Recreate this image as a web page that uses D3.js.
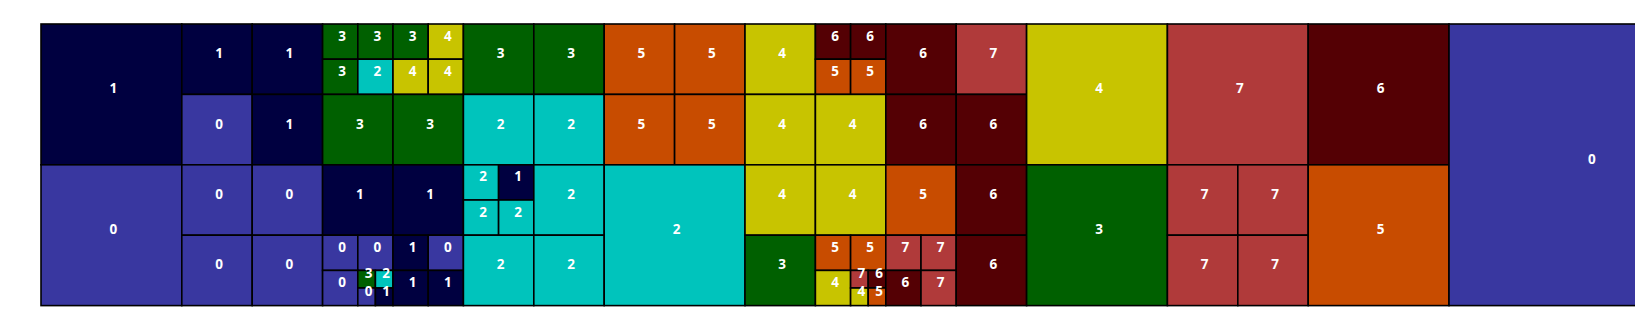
<!DOCTYPE html>
<html>
<head>
<meta charset="utf-8">
<script src="https://cdn.jsdelivr.net/npm/d3@7"></script>
<style>
  body { margin: 0; background: #fff; }
  svg { display: block; }
</style>
</head>
<body>
<svg id="chart" width="1635" height="334"></svg>
<script>
// Each cell: first char = top-level square index, next chars = quadrant (0 TL, 1 TR, 2 BL, 3 BR)
const cellPaths = [
  "00","010","011","012","013","02","030","031","032","033",
  "1000","1001","1002","1003","1010","1011","1012","1013","102","103",
  "110","111","112","113",
  "120","121","1220","1221","1222","12230","12231","12232","12233",
  "1230","1231","1232","1233",
  "1300","1301","1302","1303","131","132","133",
  "200","201","202","203",
  "210","2110","2111","2112","2113","212","213",
  "22",
  "230","231","232","2330","2331","2332","23330","23331","23332","23333",
  "300","301","302","303","31",
  "320","321","3220","3221","3222","3223","323","33",
  "40","41","420","421","422","423","43",
  "5"
];
const cellValues = [
  1,1,1,0,1,0,0,0,0,0,
  3,3,3,2,3,4,4,4,3,3,
  3,3,2,2,
  1,1,0,0,0,3,2,0,1,
  1,0,1,1,
  2,1,2,2,2,2,2,
  5,5,5,5,
  4,6,6,5,5,4,4,
  2,
  4,4,3,5,5,4,7,6,4,5,
  6,7,6,6,4,
  5,6,7,7,6,7,6,3,
  7,6,7,7,7,7,5,
  0
];
const classLabels = ["0","1","2","3","4","5","6","7"];
const classColors = ["#3937a0","#000040","#00c4bc","#006000","#c8c400","#c84c00","#540004","#b03a3a"];
const squareCount = 6;

const x = d3.scaleLinear().domain([0, squareCount]).range([41, 41 + squareCount * 281.6]);
const y = d3.scaleLinear().domain([0, 1]).range([24, 305.6]);
const color = d3.scaleOrdinal().domain(d3.range(classLabels.length)).range(classColors);

function cellGeom(path) {
  let cx = +path[0], cy = 0, s = 1;
  for (let i = 1; i < path.length; i++) {
    const q = +path[i];
    s /= 2;
    cx += (q % 2) * s;
    cy += Math.floor(q / 2) * s;
  }
  return { x0: cx, y0: cy, x1: cx + s, y1: cy + s };
}

const cells = cellPaths.map((p, i) => Object.assign({ value: cellValues[i] }, cellGeom(p)));

const svg = d3.select("#chart");
const g = svg.append("g");

g.selectAll("rect.cell")
  .data(cells)
  .join("rect")
  .attr("class", "cell")
  .attr("x", d => x(d.x0))
  .attr("y", d => y(d.y0))
  .attr("width", d => x(d.x1) - x(d.x0))
  .attr("height", d => y(d.y1) - y(d.y0))
  .attr("fill", d => color(d.value))
  .attr("stroke", "#000")
  .attr("stroke-width", 1.6);

g.selectAll("text.lbl")
  .data(cells)
  .join("text")
  .attr("class", "lbl")
  .attr("x", d => (x(d.x0) + x(d.x1)) / 2 + 2)
  .attr("y", d => (y(d.y0) + y(d.y1)) / 2 - 1)
  .attr("text-anchor", "middle")
  .attr("fill", "#fff")
  .attr("font-family", "'Open Sans', sans-serif")
  .attr("font-weight", 700)
  .attr("font-size", "13.5px")
  .text(d => classLabels[d.value]);
</script>
</body>
</html>
